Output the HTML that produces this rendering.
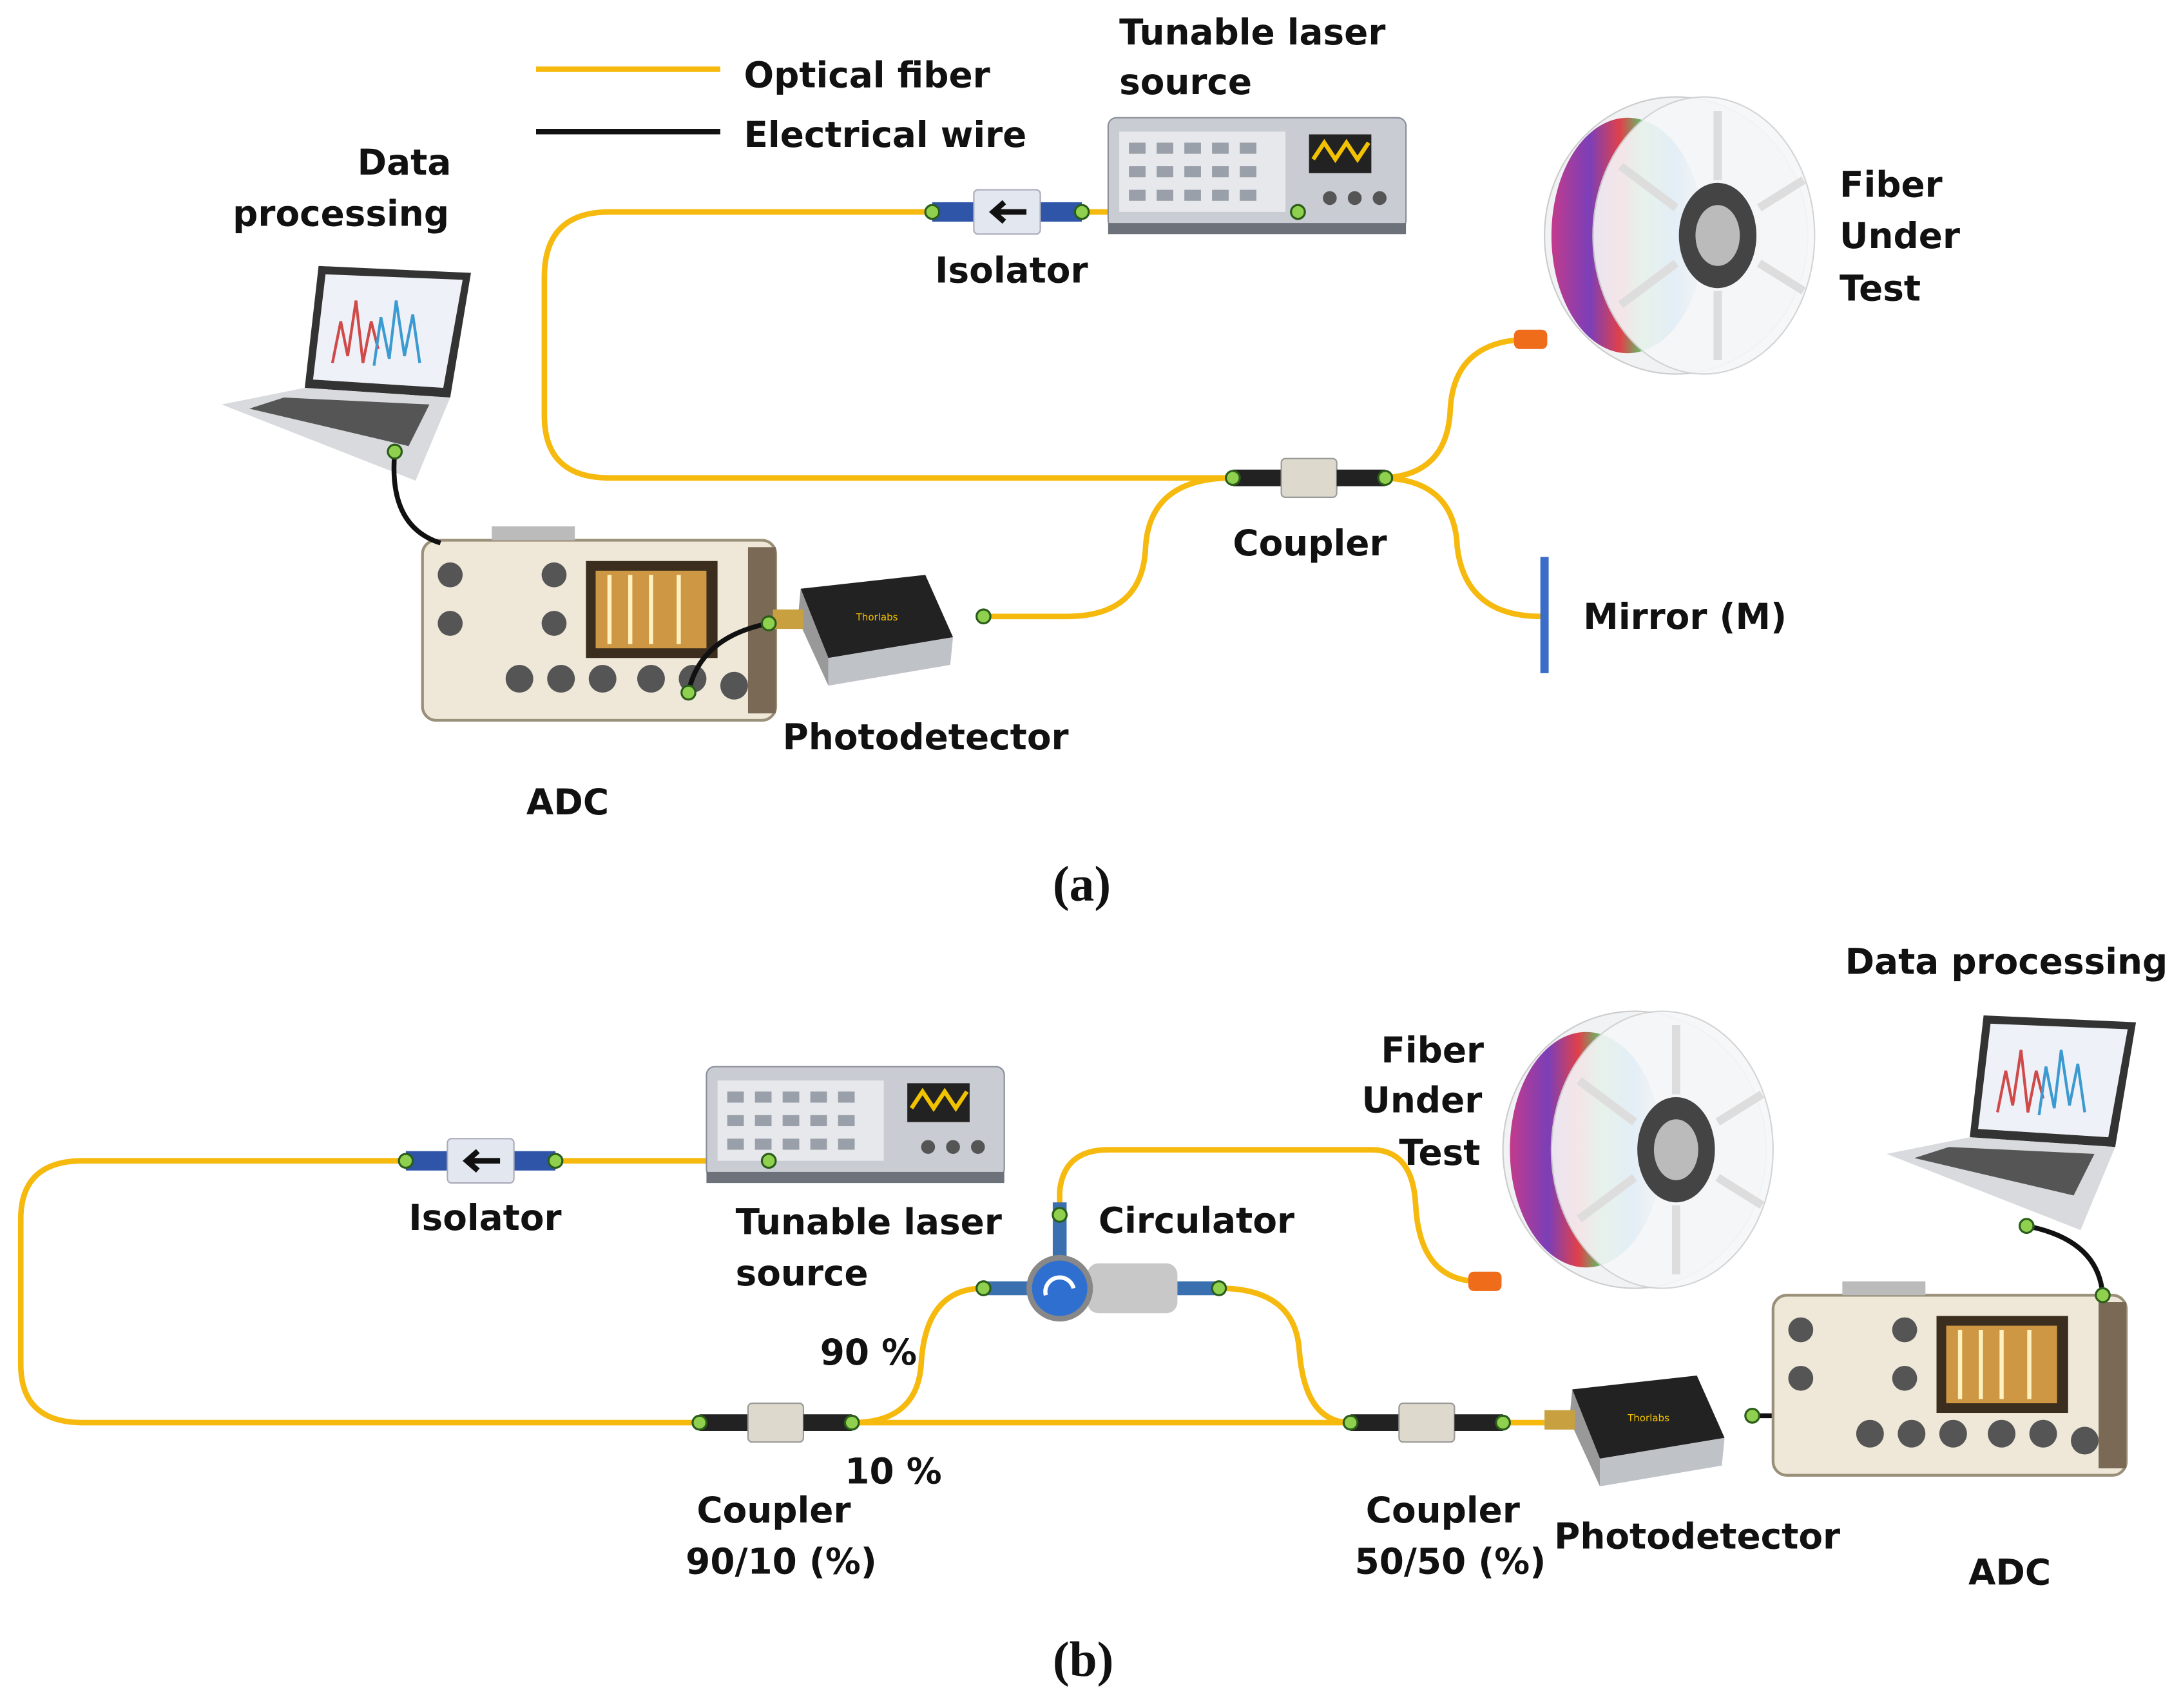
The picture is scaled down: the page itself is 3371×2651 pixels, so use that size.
<!DOCTYPE html>
<html><head><meta charset="utf-8"><style>
html,body{margin:0;padding:0;background:#fff}
svg{display:block}
text{font-family:"DejaVu Sans","Liberation Sans",sans-serif;font-weight:bold;font-size:25.5px;fill:#111}
.cap{font-family:"Liberation Serif",serif;font-size:36px;font-weight:bold}
.f{fill:none;stroke:#f6b90e;stroke-width:4}
.w{fill:none;stroke:#111;stroke-width:3.5}
.g{fill:#8fd14f;stroke:#2b5d1a;stroke-width:1.5}
</style></head><body>
<svg width="3371" height="2651" viewBox="0 0 1568 1233" preserveAspectRatio="none" xmlns="http://www.w3.org/2000/svg">
<defs>
<linearGradient id="rb" x1="0" y1="0" x2="1" y2="0">
<stop offset="0" stop-color="#c23b8c"/><stop offset=".25" stop-color="#7b3fb8"/><stop offset=".45" stop-color="#e0404a"/><stop offset=".6" stop-color="#5cc46a"/><stop offset=".8" stop-color="#3aa0e0"/><stop offset="1" stop-color="#ddd"/></linearGradient>
<g id="laser"><rect x="0" y="0" width="215" height="80" rx="6" fill="#c9ccd3" stroke="#8a8f99"/><rect x="8" y="10" width="120" height="58" fill="#e6e8ec"/><g fill="#9aa0aa"><rect x="15" y="18" width="12" height="8"/><rect x="35" y="18" width="12" height="8"/><rect x="55" y="18" width="12" height="8"/><rect x="75" y="18" width="12" height="8"/><rect x="95" y="18" width="12" height="8"/><rect x="15" y="35" width="12" height="8"/><rect x="35" y="35" width="12" height="8"/><rect x="55" y="35" width="12" height="8"/><rect x="75" y="35" width="12" height="8"/><rect x="95" y="35" width="12" height="8"/><rect x="15" y="52" width="12" height="8"/><rect x="35" y="52" width="12" height="8"/><rect x="55" y="52" width="12" height="8"/><rect x="75" y="52" width="12" height="8"/><rect x="95" y="52" width="12" height="8"/></g><rect x="145" y="12" width="45" height="28" fill="#222"/><path d="M148 30 l8 -12 l8 12 l8 -12 l8 12 l8 -12" stroke="#f2c200" stroke-width="3" fill="none"/><circle cx="160" cy="58" r="5" fill="#555"/><circle cx="178" cy="58" r="5" fill="#555"/><circle cx="196" cy="58" r="5" fill="#555"/><rect x="0" y="76" width="215" height="8" fill="#6c717a"/></g>
<g id="spool"><ellipse cx="0" cy="0" rx="95" ry="100" fill="#f1f2f4" stroke="#ccc"/><ellipse cx="-35" cy="0" rx="55" ry="85" fill="url(#rb)"/><ellipse cx="20" cy="0" rx="80" ry="100" fill="#f6f7f9" stroke="#d0d0d0" opacity=".9"/><ellipse cx="30" cy="0" rx="28" ry="38" fill="#444"/><ellipse cx="30" cy="0" rx="16" ry="22" fill="#bbb"/><g stroke="#ddd" stroke-width="6"><line x1="30" y1="-40" x2="30" y2="-90"/><line x1="30" y1="40" x2="30" y2="90"/><line x1="60" y1="-20" x2="92" y2="-40"/><line x1="60" y1="20" x2="92" y2="40"/><line x1="0" y1="-20" x2="-40" y2="-50"/><line x1="0" y1="20" x2="-40" y2="50"/></g></g>
<g id="laptop"><polygon points="70,0 180,5 165,95 60,88" fill="#333"/><polygon points="75,6 174,10 160,88 66,82" fill="#eef2f8"/><g stroke-width="2"><path d="M80 70 l6 -30 l5 25 l6 -40 l5 45 l6 -30 l5 20" stroke="#d04a4a" fill="none"/><path d="M110 72 l5 -35 l6 30 l5 -42 l6 40 l6 -30 l5 35" stroke="#3c9ad0" fill="none"/></g><polygon points="60,88 165,95 140,155 0,100" fill="#d8dade"/><polygon points="45,95 150,100 135,130 20,103" fill="#555"/></g>
<g id="adc"><rect x="0" y="0" width="255" height="130" rx="10" fill="#efe8d8" stroke="#9a8f78" stroke-width="2"/><rect x="118" y="15" width="95" height="70" fill="#3b2e1e"/><rect x="125" y="22" width="80" height="56" fill="#e9a94a" opacity=".85"/><g stroke="#fff2c0" stroke-width="3"><line x1="135" y1="25" x2="135" y2="75"/><line x1="150" y1="25" x2="150" y2="75"/><line x1="165" y1="25" x2="165" y2="75"/><line x1="185" y1="25" x2="185" y2="75"/></g><g fill="#555"><circle cx="20" cy="25" r="9"/><circle cx="20" cy="60" r="9"/><circle cx="95" cy="25" r="9"/><circle cx="95" cy="60" r="9"/><circle cx="70" cy="100" r="10"/><circle cx="100" cy="100" r="10"/><circle cx="130" cy="100" r="10"/><circle cx="165" cy="100" r="10"/><circle cx="195" cy="100" r="10"/><circle cx="225" cy="105" r="10"/></g><rect x="235" y="5" width="20" height="120" fill="#7a6a55"/><rect x="50" y="-10" width="60" height="10" fill="#bbb"/></g>
<g id="pd"><polygon points="20,10 110,0 130,45 40,60" fill="#222"/><polygon points="40,60 130,45 128,65 40,80" fill="#bfc3c8"/><polygon points="20,10 40,60 40,80 18,32" fill="#999"/><rect x="0" y="25" width="22" height="14" fill="#c8a040"/><text x="60" y="33" style="font-size:7px;fill:#f2c200;font-weight:normal">Thorlabs</text></g>
<g id="coup"><rect x="0" y="-6" width="35" height="12" fill="#222"/><rect x="35" y="-14" width="40" height="28" rx="3" fill="#ddd9cc" stroke="#999"/><rect x="75" y="-6" width="35" height="12" fill="#222"/><circle cx="0" cy="0" r="5" class="g"/><circle cx="110" cy="0" r="5" class="g"/></g>
<g id="iso"><rect x="0" y="-7" width="30" height="14" fill="#2f55a8"/><rect x="78" y="-7" width="30" height="14" fill="#2f55a8"/><rect x="30" y="-16" width="48" height="32" rx="3" fill="#e3e8f0" stroke="#aab"/><path d="M68 0 H45 M52 -7 L44 0 L52 7" stroke="#111" stroke-width="4" fill="none"/><circle cx="0" cy="0" r="5" class="g"/><circle cx="108" cy="0" r="5" class="g"/></g>
</defs>

<line x1="387" y1="50" x2="520" y2="50" stroke="#f6b90e" stroke-width="4"/>
<line x1="387" y1="95" x2="520" y2="95" stroke="#111" stroke-width="4"/>
<text x="537" y="63">Optical fiber</text>
<text x="537" y="106">Electrical wire</text>

<path class="f" d="M937 153 H440 Q393 153 393 200 V300 Q393 345 440 345 H890"/>
<path class="f" d="M995 345 Q1045 345 1047 295 Q1050 245 1105 245"/>
<path class="f" d="M995 345 Q1050 345 1052 395 Q1058 445 1113 445"/>
<path class="f" d="M890 345 Q830 345 827 395 Q825 445 770 445 H710"/>
<line x1="1115" y1="402" x2="1115" y2="486" stroke="#3b6cc8" stroke-width="6"/>

<use href="#laser" x="800" y="85"/>
<use href="#iso" x="673" y="153"/>
<circle cx="937" cy="153" r="5" class="g"/>
<use href="#spool" x="1210" y="170"/>
<rect x="1093" y="238" width="24" height="14" rx="4" fill="#ef6c1a"/>
<use href="#laptop" x="160" y="192"/>
<use href="#coup" x="890" y="345"/>
<use href="#adc" x="305" y="390"/>
<use href="#pd" x="558" y="415"/>
<circle cx="710" cy="445" r="5" class="g"/>
<path class="w" d="M285 326 Q280 380 318 392"/>
<circle cx="285" cy="326" r="5" class="g"/>
<path class="w" d="M555 450 Q505 460 497 500"/>
<circle cx="555" cy="450" r="5" class="g"/><circle cx="497" cy="500" r="5" class="g"/>

<text x="808" y="32">Tunable laser</text>
<text x="808" y="68">source</text>
<text x="258" y="126">Data</text>
<text x="168" y="163">processing</text>
<text x="675" y="204">Isolator</text>
<text x="1328" y="142">Fiber</text>
<text x="1328" y="179">Under</text>
<text x="1328" y="217">Test</text>
<text x="890" y="401">Coupler</text>
<text x="1143" y="454">Mirror (M)</text>
<text x="565" y="541">Photodetector</text>
<text x="380" y="588">ADC</text>
<text class="cap" x="760" y="650">(a)</text>

<path class="f" d="M555 838 H60 Q15 838 15 880 V985 Q15 1027 60 1027 H505"/>
<path class="f" d="M615 1027 Q662 1027 665 985 Q668 930 710 930"/>
<path class="f" d="M765 877 V860 Q768 830 800 830 H990 Q1020 830 1022 870 Q1025 925 1068 925"/>
<path class="f" d="M880 930 Q935 930 938 975 Q942 1027 975 1027"/>
<path class="f" d="M615 1027 H975 M1085 1027 H1115"/>

<use href="#laser" x="510" y="770"/>
<use href="#iso" x="293" y="838"/>
<circle cx="555" cy="838" r="5" class="g"/>
<use href="#spool" x="1180" y="830"/>
<rect x="1060" y="918" width="24" height="14" rx="4" fill="#ef6c1a"/>
<use href="#laptop" x="1362" y="733"/>
<use href="#coup" x="505" y="1027"/>
<use href="#coup" x="975" y="1027"/>
<rect x="710" y="925" width="40" height="10" fill="#3a6fb0"/>
<rect x="760" y="868" width="10" height="40" fill="#3a6fb0"/>
<rect x="785" y="912" width="65" height="36" rx="8" fill="#c8c8c8"/>
<rect x="850" y="925" width="30" height="10" fill="#3a6fb0"/>
<circle cx="765" cy="930" r="22" fill="#2f6fd0" stroke="#888" stroke-width="4"/>
<path d="M755 935 A10 10 0 1 1 775 930" stroke="#fff" stroke-width="3" fill="none"/>
<circle cx="710" cy="930" r="5" class="g"/><circle cx="880" cy="930" r="5" class="g"/><circle cx="765" cy="877" r="5" class="g"/>
<use href="#pd" x="1115" y="993"/>
<path class="w" d="M1265 1022 H1295"/>
<circle cx="1265" cy="1022" r="5" class="g"/><circle cx="1295" cy="1022" r="5" class="g"/>
<use href="#adc" x="1280" y="935"/>
<path class="w" d="M1463 885 Q1515 895 1518 935"/>
<circle cx="1463" cy="885" r="5" class="g"/><circle cx="1518" cy="935" r="5" class="g"/>

<text x="1332" y="703">Data processing</text>
<text x="997" y="767">Fiber</text>
<text x="983" y="803">Under</text>
<text x="1010" y="841">Test</text>
<text x="295" y="888">Isolator</text>
<text x="531" y="891">Tunable laser</text>
<text x="531" y="928">source</text>
<text x="793" y="890">Circulator</text>
<text x="592" y="985">90 %</text>
<text x="610" y="1071">10 %</text>
<text x="503" y="1099">Coupler</text>
<text x="495" y="1136">90/10 (%)</text>
<text x="986" y="1099">Coupler</text>
<text x="978" y="1136">50/50 (%)</text>
<text x="1122" y="1118">Photodetector</text>
<text x="1421" y="1144">ADC</text>
<text class="cap" x="760" y="1210">(b)</text>
</svg>
</body></html>
